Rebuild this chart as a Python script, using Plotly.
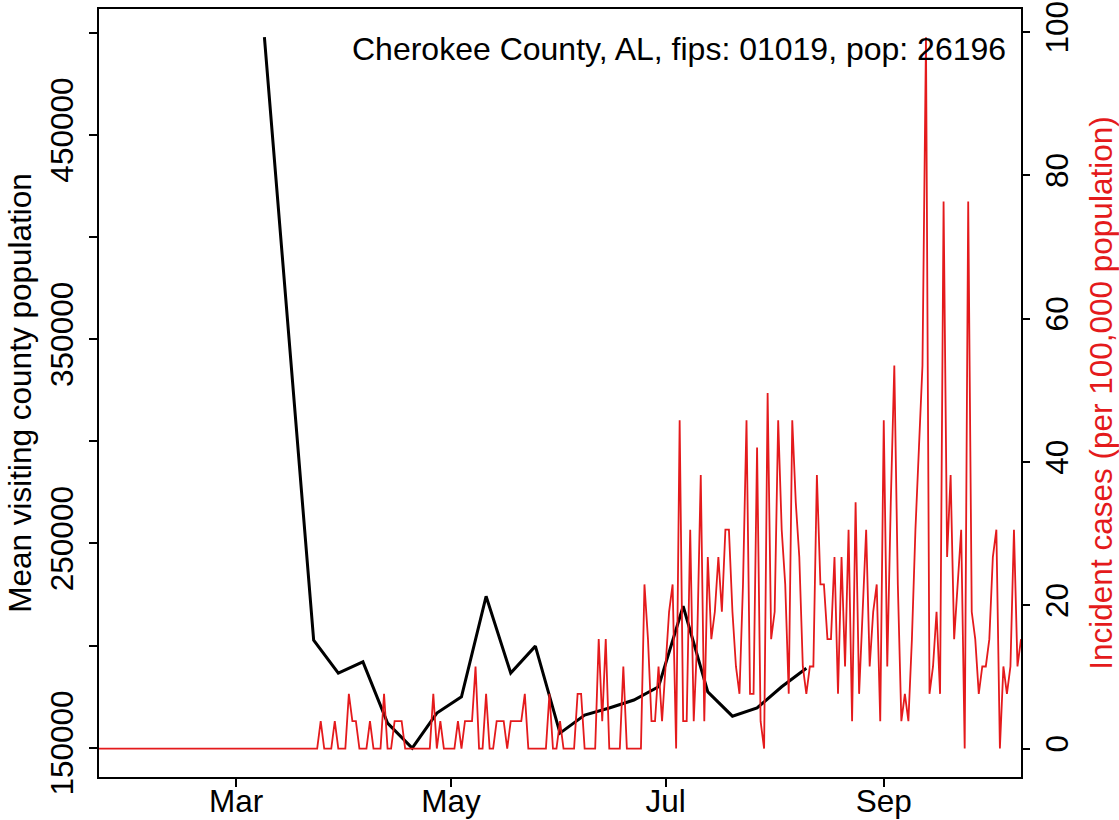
import pandas as pd
import plotly.graph_objects as go

# ---- data ----
population = 26196
title_text = "Cherokee County, AL, fips: 01019, pop: 26196"

# weekly mean visiting county population (black line)
visit_dates = ["2020-03-09", "2020-03-23", "2020-03-30", "2020-04-06", "2020-04-13",
               "2020-04-20", "2020-04-27", "2020-05-04", "2020-05-11", "2020-05-18",
               "2020-05-25", "2020-06-01", "2020-06-08", "2020-06-15", "2020-06-22",
               "2020-06-29", "2020-07-06", "2020-07-13", "2020-07-20", "2020-07-27",
               "2020-08-03", "2020-08-10"]
visit_pop = [497800, 202600, 186500, 192000, 162000,
             149800, 166900, 174900, 224100, 186500,
             199700, 157100, 165900, 169400, 173300,
             179800, 219200, 177300, 165400, 169400,
             179800, 188900]

# daily incident case counts from 2020-01-22 to 2020-10-10 (red line)
case_start = "2020-01-22"
case_counts = (
    [0] * 63 +
    [1, 0, 0, 0, 1, 0, 0, 0, 2, 1, 1, 0, 0, 0, 1, 0, 0, 0, 2, 0,   # d63-82
     0, 1, 1, 1, 0, 0, 0, 0, 0, 0, 0, 0, 2, 0, 1, 0, 0, 0, 0, 1,   # d83-102
     0, 1, 1, 1, 3, 0, 0, 2, 0, 0, 1, 1, 1, 0, 1, 1, 1, 1, 2, 0,   # d103-122
     0, 0, 0, 0, 0, 2, 0, 0, 1, 0, 0, 0, 0, 2, 2, 0, 0, 0, 0, 4,   # d123-142
     1, 4, 0, 0, 0, 0, 3, 0, 0, 0, 0, 0, 6, 4, 1, 1, 3, 1, 3, 5,   # d143-162
     6, 0, 12, 1, 1, 8, 1, 4, 10, 1, 7, 4, 5, 7, 5, 8, 8, 5, 3, 2,  # d163-182
     6, 12, 2, 2, 11, 1, 0, 13, 4, 5, 12, 8, 6, 2, 12, 9, 7, 3, 2, 3,  # d183-202
     3, 10, 6, 6, 4, 4, 7, 2, 7, 3, 8, 1, 9, 2, 5, 8, 3, 5, 6, 1,   # d203-222
     12, 3, 9, 14, 6, 1, 2, 1, 4, 8, 11, 14, 26, 2, 3, 5, 2, 20, 7, 10,  # d223-242
     4, 6, 8, 0, 20, 5, 4, 2, 3, 3, 4, 7, 8, 0, 3, 2, 3, 8, 3, 4]    # d243-262
)
case_dates = pd.date_range(case_start, periods=len(case_counts), freq="D")
case_rate = [c * 100000 / population for c in case_counts]

x_tick_vals = ["2020-03-01", "2020-05-01", "2020-07-01", "2020-09-01"]
x_tick_text = ["Mar", "May", "Jul", "Sep"]
left_tick_vals = [150000, 200000, 250000, 300000, 350000, 400000, 450000, 500000]
left_tick_text = ["150000", "", "250000", "", "350000", "", "450000", ""]
right_tick_vals = [0, 20, 40, 60, 80, 100]

RED = "#E41A1C"
FONT = "Liberation Sans, Arial, Helvetica, sans-serif"
FS = 31.5

fig = go.Figure()
fig.add_trace(go.Scatter(x=case_dates, y=case_rate, mode="lines",
                         line=dict(color=RED, width=1.8), yaxis="y2",
                         showlegend=False, hoverinfo="skip"))
fig.add_trace(go.Scatter(x=pd.to_datetime(visit_dates), y=visit_pop, mode="lines",
                         line=dict(color="black", width=3), yaxis="y",
                         showlegend=False, hoverinfo="skip"))

fig.add_annotation(text=title_text, xref="paper", yref="paper", x=0.986, y=0.948,
                   xanchor="right", yanchor="middle", showarrow=False,
                   font=dict(size=32, color="black", family=FONT))

axis_common = dict(showgrid=False, zeroline=False, ticks="outside", ticklen=8,
                   tickwidth=1.5, tickcolor="black", automargin=False,
                   tickfont=dict(size=FS, color="black", family=FONT))

fig.update_layout(
    width=1119, height=820,
    margin=dict(l=99, r=98, t=9, b=43, autoexpand=False),
    paper_bgcolor="white", plot_bgcolor="white",
    font=dict(family=FONT, color="black"),
    xaxis=dict(type="date", range=["2020-01-22", "2020-10-10"],
               tickvals=x_tick_vals, ticktext=x_tick_text, ticklabelstandoff=-13,
               showline=True, mirror=True, linecolor="black", linewidth=1.8,
               **axis_common),
    yaxis=dict(range=[135630, 511580], tickvals=left_tick_vals, ticktext=left_tick_text,
               tickangle=-90, ticklabelstandoff=4,
               showline=True, mirror=True, linecolor="black", linewidth=1.8,
               title=dict(text="Mean visiting county population",
                          font=dict(size=FS, color="black", family=FONT), standoff=2),
               **axis_common),
    yaxis2=dict(range=[-3.97, 103.2], overlaying="y", side="right",
                tickvals=right_tick_vals, ticktext=[str(v) for v in right_tick_vals],
                tickangle=-90, showline=False,
                title=dict(text="Incident cases (per 100,000 population)",
                           font=dict(size=FS, color=RED, family=FONT), standoff=18),
                **axis_common),
)

fig.write_html("out.html", config={"displayModeBar": False},
               post_script="document.body.style.margin='0';document.body.style.overflow='hidden';")
